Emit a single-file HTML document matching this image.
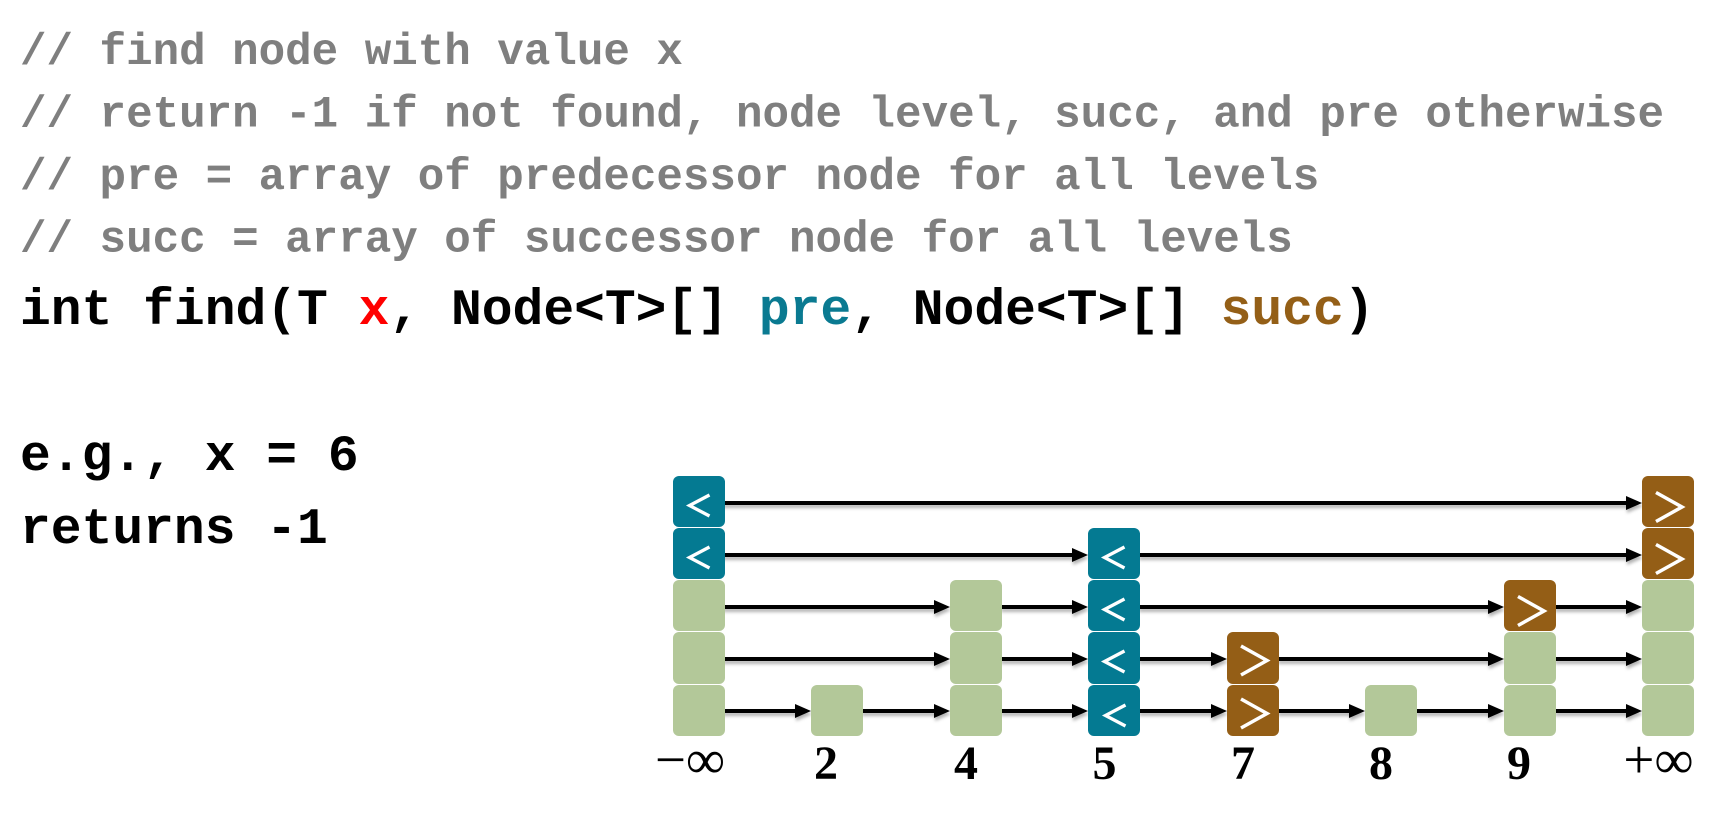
<!DOCTYPE html>
<html>
<head>
<meta charset="utf-8">
<style>
html,body{margin:0;padding:0;background:#fff;}
body{width:1731px;height:815px;overflow:hidden;}
svg{display:block;}
.mono{font-family:"Liberation Mono",monospace;font-weight:bold;}
.serif{font-family:"Liberation Serif",serif;}
</style>
</head>
<body>
<svg width="1731" height="815" viewBox="0 0 1731 815" xmlns="http://www.w3.org/2000/svg">
<defs>
<filter id="sh" x="-5%" y="-200%" width="110%" height="500%">
<feDropShadow dx="1" dy="3" stdDeviation="1.5" flood-color="#000" flood-opacity="0.3"/>
</filter>
</defs>

<!-- code text -->
<g class="mono" font-size="44.2" fill="#7f7f7f">
<text x="20" y="64">// find node with value x</text>
<text x="20" y="126.5">// return -1 if not found, node level, succ, and pre otherwise</text>
<text x="20" y="189">// pre = array of predecessor node for all levels</text>
<text x="20" y="251.5">// succ = array of successor node for all levels</text>
</g>
<g class="mono" font-size="51.3" fill="#000">
<text x="20" y="324" xml:space="preserve">int find(T <tspan fill="#ff0000">x</tspan>, Node&lt;T&gt;[] <tspan fill="#0a7a91">pre</tspan>, Node&lt;T&gt;[] <tspan fill="#945f17">succ</tspan>)</text>
<text x="20" y="470">e.g., x = 6</text>
<text x="20" y="543">returns -1</text>
</g>

<!-- arrows -->
<g filter="url(#sh)">
<g stroke="#000" stroke-width="4" fill="none">
<line x1="722" y1="503" x2="1630" y2="503"/>
<line x1="722" y1="555" x2="1076" y2="555"/>
<line x1="1138" y1="555" x2="1630" y2="555"/>
<line x1="722" y1="607" x2="938" y2="607"/>
<line x1="1000" y1="607" x2="1076" y2="607"/>
<line x1="1138" y1="607" x2="1492" y2="607"/>
<line x1="1554" y1="607" x2="1630" y2="607"/>
<line x1="722" y1="659" x2="938" y2="659"/>
<line x1="1000" y1="659" x2="1076" y2="659"/>
<line x1="1138" y1="659" x2="1215" y2="659"/>
<line x1="1277" y1="659" x2="1492" y2="659"/>
<line x1="1554" y1="659" x2="1630" y2="659"/>
<line x1="722" y1="711" x2="799" y2="711"/>
<line x1="861" y1="711" x2="938" y2="711"/>
<line x1="1000" y1="711" x2="1076" y2="711"/>
<line x1="1138" y1="711" x2="1215" y2="711"/>
<line x1="1277" y1="711" x2="1353" y2="711"/>
<line x1="1415" y1="711" x2="1492" y2="711"/>
<line x1="1554" y1="711" x2="1630" y2="711"/>
</g>
<g fill="#000">
<polygon points="1642,503 1626,496 1626,510"/>
<polygon points="1088,555 1072,548 1072,562"/>
<polygon points="1642,555 1626,548 1626,562"/>
<polygon points="950,607 934,600 934,614"/>
<polygon points="1088,607 1072,600 1072,614"/>
<polygon points="1504,607 1488,600 1488,614"/>
<polygon points="1642,607 1626,600 1626,614"/>
<polygon points="950,659 934,652 934,666"/>
<polygon points="1088,659 1072,652 1072,666"/>
<polygon points="1227,659 1211,652 1211,666"/>
<polygon points="1504,659 1488,652 1488,666"/>
<polygon points="1642,659 1626,652 1626,666"/>
<polygon points="811,711 795,704 795,718"/>
<polygon points="950,711 934,704 934,718"/>
<polygon points="1088,711 1072,704 1072,718"/>
<polygon points="1227,711 1211,704 1211,718"/>
<polygon points="1365,711 1349,704 1349,718"/>
<polygon points="1504,711 1488,704 1488,718"/>
<polygon points="1642,711 1626,704 1626,718"/>
</g>
</g>

<!-- green nodes -->
<g fill="#b3c899">
<rect x="673" y="580" width="52" height="51" rx="6"/>
<rect x="673" y="632" width="52" height="52" rx="6"/>
<rect x="673" y="685" width="52" height="51" rx="6"/>
<rect x="811" y="685" width="52" height="51" rx="6"/>
<rect x="950" y="580" width="52" height="51" rx="6"/>
<rect x="950" y="632" width="52" height="52" rx="6"/>
<rect x="950" y="685" width="52" height="51" rx="6"/>
<rect x="1365" y="685" width="52" height="51" rx="6"/>
<rect x="1504" y="632" width="52" height="52" rx="6"/>
<rect x="1504" y="685" width="52" height="51" rx="6"/>
<rect x="1642" y="580" width="52" height="51" rx="6"/>
<rect x="1642" y="632" width="52" height="52" rx="6"/>
<rect x="1642" y="685" width="52" height="51" rx="6"/>
</g>

<!-- teal nodes -->
<g fill="#047a92">
<rect x="673" y="476" width="52" height="51" rx="6"/>
<rect x="673" y="528" width="52" height="51" rx="6"/>
<rect x="1088" y="528" width="52" height="51" rx="6"/>
<rect x="1088" y="580" width="52" height="51" rx="6"/>
<rect x="1088" y="632" width="52" height="52" rx="6"/>
<rect x="1088" y="685" width="52" height="51" rx="6"/>
</g>
<!-- brown nodes -->
<g fill="#945e16">
<rect x="1642" y="476" width="52" height="51" rx="6"/>
<rect x="1642" y="528" width="52" height="51" rx="6"/>
<rect x="1504" y="580" width="52" height="51" rx="6"/>
<rect x="1227" y="632" width="52" height="52" rx="6"/>
<rect x="1227" y="685" width="52" height="51" rx="6"/>
</g>

<!-- < glyphs -->
<g stroke="#fff" stroke-width="3.3" fill="none" stroke-linejoin="miter">
<polyline points="709.5,495 689.5,505.5 709.5,516"/>
<polyline points="709.5,547 689.5,557.5 709.5,568"/>
<polyline points="1124.5,547 1104.5,557.5 1124.5,568"/>
<polyline points="1124.5,599 1104.5,609.5 1124.5,620"/>
<polyline points="1124.5,651 1104.5,661.5 1124.5,672"/>
<polyline points="1125.5,705 1105.5,715.5 1125.5,726"/>
</g>
<!-- > glyphs -->
<g stroke="#fff" stroke-width="3.5" fill="none" stroke-linejoin="miter">
<polyline points="1656,492.5 1682,507 1656,521.5"/>
<polyline points="1656,544.5 1682,559 1656,573.5"/>
<polyline points="1518,596.5 1544,611 1518,625.5"/>
<polyline points="1241,646 1267,660.5 1241,675"/>
<polyline points="1241,699 1267,713.5 1241,728"/>
</g>

<!-- labels -->
<g class="serif" font-size="48" font-weight="bold" fill="#000" text-anchor="middle">
<text x="826" y="779">2</text>
<text x="966" y="779">4</text>
<text x="1104.5" y="779">5</text>
<text x="1243" y="779">7</text>
<text x="1381" y="779">8</text>
<text x="1519" y="779">9</text>
</g>
<g class="serif" font-size="55" fill="#000" text-anchor="middle">
<text x="690" y="778">−∞</text>
<text x="1658.5" y="778">+∞</text>
</g>
</svg>
</body>
</html>
